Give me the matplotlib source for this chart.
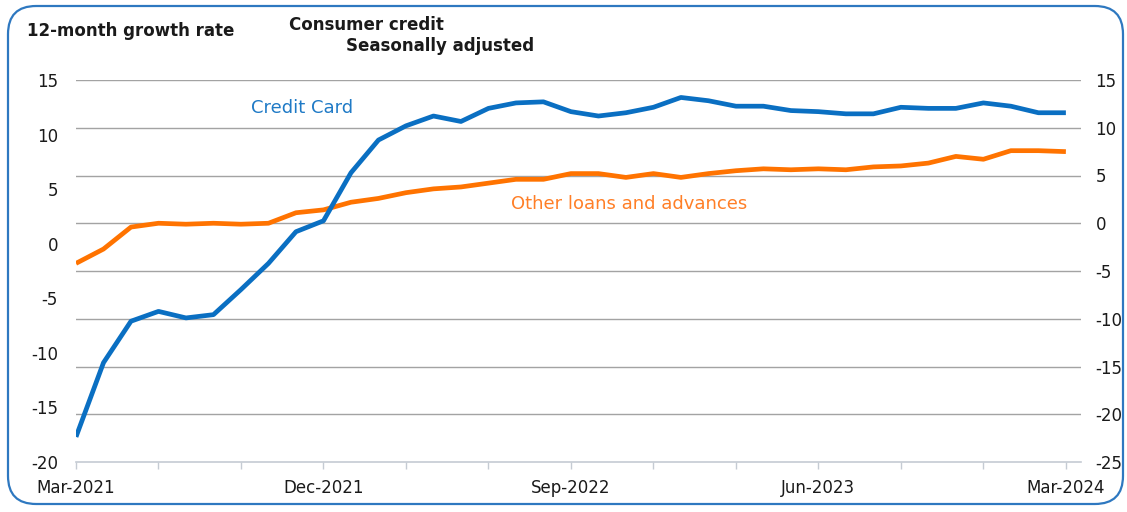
import numpy as np
import pandas as pd
import matplotlib
matplotlib.use("Agg")
import matplotlib.pyplot as plt
from matplotlib.patches import FancyBboxPatch

# Monthly observations, Mar-2021 .. Mar-2024
months = pd.date_range("2021-03-01", "2024-03-01", freq="MS")

# 12-month growth rate (%), credit cards (left scale)
credit_card = [
    -17.7, -10.9, -7.1, -6.2, -6.8, -6.5, -4.2, -1.8, 1.1, 2.1,
    6.5, 9.5, 10.8, 11.7, 11.2, 12.4, 12.9, 13.0, 12.1, 11.7,
    12.0, 12.5, 13.4, 13.1, 12.6, 12.6, 12.2, 12.1, 11.9, 11.9,
    12.5, 12.4, 12.4, 12.9, 12.6, 12.0, 12.0,
]

# 12-month growth rate (%), other loans and advances (right scale)
other_loans = [
    -4.2, -2.7, -0.4, 0.0, -0.1, 0.0, -0.1, 0.0, 1.1, 1.4,
    2.2, 2.6, 3.2, 3.6, 3.8, 4.2, 4.6, 4.6, 5.2, 5.2,
    4.8, 5.2, 4.8, 5.2, 5.5, 5.7, 5.6, 5.7, 5.6, 5.9,
    6.0, 6.3, 7.0, 6.7, 7.6, 7.6, 7.5,
]

left_ticks = [-20, -15, -10, -5, 0, 5, 10, 15]
right_ticks = [-25, -20, -15, -10, -5, 0, 5, 10, 15]

BLUE = "#0A6FC2"
ORANGE = "#FF7300"
TEXT = "#1A1A1A"

plt.rcParams["font.family"] = ["DejaVu Sans"]
plt.rcParams["axes.unicode_minus"] = False

W, H = 1127, 512
fig = plt.figure(figsize=(W / 100, H / 100), dpi=100)

# rounded frame around the panel
frame = FancyBboxPatch((8 / W, 8 / H), (W - 12) / W, (H - 14) / H,
                       boxstyle="round,pad=0,rounding_size=0.025",
                       transform=fig.transFigure, fill=False,
                       edgecolor="#2E78C0", linewidth=1.6,
                       mutation_aspect=W / H)
fig.patches.append(frame)

x0, x1, y0, y1 = 76, 1081, 80, 462
ax = fig.add_axes([x0 / W, 1 - y1 / H, (x1 - x0) / W, (y1 - y0) / H])
ax2 = ax.twinx()

x = np.arange(len(months))

# right scale: other loans, with the horizontal grid
ax.set_ylim(-25, 15)
ax.set_yticks(right_ticks)
ax.yaxis.tick_right()
ax.plot(x, other_loans, color=ORANGE, lw=3.4, solid_capstyle="butt",
        solid_joinstyle="round", zorder=3)
for v in right_ticks[1:]:
    ax.axhline(v, color="#A3A3A3", lw=1.0, zorder=1)

# left scale: credit card
ax2.set_ylim(-20, 15)
ax2.set_yticks(left_ticks)
ax2.yaxis.tick_left()
ax2.plot(x, credit_card, color=BLUE, lw=3.4, solid_capstyle="butt",
         solid_joinstyle="round", zorder=3)

# quarterly ticks, labelled every nine months
ax.set_xlim(0, 36.55)
quarter_pos = x[::3]
ax.set_xticks(quarter_pos)
ax.set_xticklabels([months[i].strftime("%b-%Y") if i % 9 == 0 else ""
                    for i in quarter_pos])

for a in (ax, ax2):
    for s in a.spines.values():
        s.set_visible(False)
    a.patch.set_visible(False)

ax.spines["bottom"].set_visible(True)
ax.spines["bottom"].set_color("#C5CBD3")
ax.spines["bottom"].set_linewidth(1.2)
ax.tick_params(axis="x", direction="out", length=5, width=1.0,
               color="#C5CBD3", pad=7, labelsize=12, labelcolor=TEXT)
ax.tick_params(axis="y", length=0, pad=10.5, labelsize=12, labelcolor=TEXT)
ax2.tick_params(axis="y", length=0, pad=13, labelsize=12, labelcolor=TEXT)

# series labels
ax2.text(8.23, 12.45, "Credit Card", color="#1F7AC6", fontsize=13,
         ha="center", va="center")
ax.text(20.1, 2.0, "Other loans and advances", color="#FF7F27",
        fontsize=13, ha="center", va="center")

# headings
fig.text(27 / W, 1 - 31 / H, "12-month growth rate", fontsize=12,
         fontweight="bold", color=TEXT, va="center", ha="left")
fig.text(289 / W, 1 - 25 / H, "Consumer credit", fontsize=12,
         fontweight="bold", color=TEXT, va="center", ha="left")
fig.text(346 / W, 1 - 46 / H, "Seasonally adjusted", fontsize=12,
         fontweight="bold", color=TEXT, va="center", ha="left")

fig.savefig("out.png", dpi=100)
